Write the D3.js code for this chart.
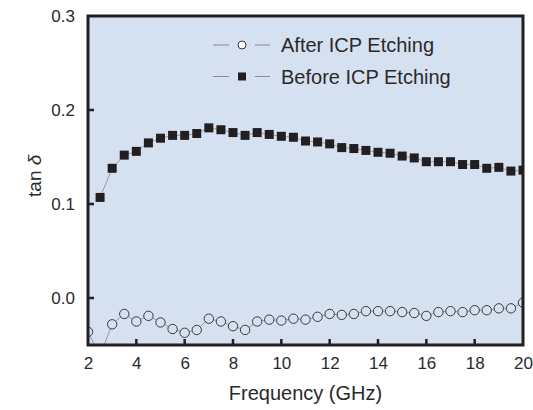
<!DOCTYPE html>
<html>
<head>
<meta charset="utf-8">
<title>tan delta vs frequency</title>
<script src="https://d3js.org/d3.v7.min.js"></script>
<style>
    body { margin: 0; background: #fff; }
    text { font-family: "Liberation Sans", Arial, sans-serif; fill: #2a2a2a; }
    .conn { fill: none; stroke: #8a8a8a; stroke-width: 0.8; }
</style>
</head>
<body>
<svg id="chart" width="533" height="410"></svg>
<script>
// frequencies (GHz)
const freqAfter = [2, 2.5, 3, 3.5, 4, 4.5, 5, 5.5, 6, 6.5, 7, 7.5, 8, 8.5, 9, 9.5, 10, 10.5, 11, 11.5,
    12, 12.5, 13, 13.5, 14, 14.5, 15, 15.5, 16, 16.5, 17, 17.5, 18, 18.5, 19, 19.5, 20];
const tanAfter = [-0.036, -0.061, -0.028, -0.017, -0.025, -0.019, -0.026, -0.033, -0.037, -0.034,
    -0.022, -0.025, -0.030, -0.034, -0.025, -0.023, -0.024, -0.022, -0.023, -0.020,
    -0.017, -0.018, -0.017, -0.014, -0.014, -0.014, -0.015, -0.016, -0.019, -0.015,
    -0.014, -0.015, -0.013, -0.013, -0.011, -0.011, -0.005];

const freqBefore = [2.5, 3, 3.5, 4, 4.5, 5, 5.5, 6, 6.5, 7, 7.5, 8, 8.5, 9, 9.5, 10, 10.5, 11, 11.5,
    12, 12.5, 13, 13.5, 14, 14.5, 15, 15.5, 16, 16.5, 17, 17.5, 18, 18.5, 19, 19.5, 20];
const tanBefore = [0.107, 0.138, 0.152, 0.156, 0.165, 0.170, 0.173, 0.173, 0.175, 0.181,
    0.179, 0.176, 0.173, 0.176, 0.174, 0.172, 0.171, 0.167, 0.166, 0.164,
    0.160, 0.159, 0.157, 0.155, 0.154, 0.151, 0.149, 0.145, 0.145, 0.145,
    0.142, 0.142, 0.138, 0.139, 0.135, 0.136];

const xTicks = [2, 4, 6, 8, 10, 12, 14, 16, 18, 20];
const yTicks = [0.0, 0.1, 0.2, 0.3];
const legendLabels = ["After ICP Etching", "Before ICP Etching"];

const svg = d3.select("#chart");
const margin = { top: 16, right: 10, bottom: 65, left: 88 };
const w = 533 - margin.left - margin.right;
const h = 410 - margin.top - margin.bottom;

const x = d3.scaleLinear().domain([2, 20]).range([0, w]);
const y = d3.scaleLinear().domain([-0.05, 0.3]).range([h, 0]);

const g = svg.append("g").attr("transform", `translate(${margin.left},${margin.top})`);

// plot background
g.append("rect").attr("width", w).attr("height", h).attr("fill", "#d5e0f0");

g.append("clipPath").attr("id", "clip")
    .append("rect").attr("width", w).attr("height", h);

const plot = g.append("g").attr("clip-path", "url(#clip)");

const line = d3.line().x(d => x(d[0])).y(d => y(d[1]));
const after = freqAfter.map((f, i) => [f, tanAfter[i]]);
const before = freqBefore.map((f, i) => [f, tanBefore[i]]);

plot.append("path").attr("class", "conn").attr("d", line(after));
plot.append("path").attr("class", "conn").attr("d", line(before));

plot.selectAll("circle.after").data(after).enter().append("circle")
    .attr("class", "after")
    .attr("cx", d => x(d[0])).attr("cy", d => y(d[1])).attr("r", 4.7)
    .attr("fill", "#d5e0f0").attr("stroke", "#3a3a3a").attr("stroke-width", 1);

const sq = 9;
plot.selectAll("rect.before").data(before).enter().append("rect")
    .attr("class", "before")
    .attr("x", d => x(d[0]) - sq / 2).attr("y", d => y(d[1]) - sq / 2)
    .attr("width", sq).attr("height", sq)
    .attr("fill", "#231f20");

// axis labels, ticks drawn inward separately
const xAxis = d3.axisBottom(x).tickValues(xTicks).tickSize(0).tickPadding(12).tickFormat(d3.format("d"));
const xg = g.append("g").attr("transform", `translate(0,${h})`).call(xAxis);
xg.select(".domain").remove();
xg.selectAll("text").attr("font-size", 17).attr("fill", "#2a2a2a");

const yAxis = d3.axisLeft(y).tickValues(yTicks).tickSize(0).tickPadding(13).tickFormat(d3.format(".1f"));
const yg = g.append("g").call(yAxis);
yg.select(".domain").remove();
yg.selectAll("text").attr("font-size", 17).attr("fill", "#2a2a2a");

g.selectAll("line.xt").data(xTicks.slice(1, -1)).enter().append("line")
    .attr("x1", d => x(d)).attr("x2", d => x(d))
    .attr("y1", h).attr("y2", h - 6)
    .attr("stroke", "#231f20").attr("stroke-width", 2.5);
g.selectAll("line.yt").data(yTicks.slice(0, -1)).enter().append("line")
    .attr("x1", 0).attr("x2", 6)
    .attr("y1", d => y(d)).attr("y2", d => y(d))
    .attr("stroke", "#231f20").attr("stroke-width", 2.5);

// frame
g.append("rect").attr("width", w).attr("height", h)
    .attr("fill", "none").attr("stroke", "#231f20").attr("stroke-width", 3);

// legend
const leg = g.append("g").attr("transform", "translate(125,29)");
legendLabels.forEach((lab, i) => {
    const row = leg.append("g").attr("transform", `translate(0,${i * 31.5})`);
    row.append("line").attr("x1", 0).attr("x2", 16).attr("y1", 0).attr("y2", 0)
        .attr("stroke", "#777").attr("stroke-width", 0.8);
    row.append("line").attr("x1", 42).attr("x2", 57).attr("y1", 0).attr("y2", 0)
        .attr("stroke", "#777").attr("stroke-width", 0.8);
    if (i === 0) {
        row.append("circle").attr("cx", 29).attr("cy", 0).attr("r", 4)
            .attr("fill", "#fff").attr("stroke", "#3a3a3a").attr("stroke-width", 1);
    } else {
        row.append("rect").attr("x", 25).attr("y", -4).attr("width", 8).attr("height", 8)
            .attr("fill", "#231f20");
    }
    row.append("text").attr("x", 68).attr("y", 7).attr("font-size", 20).text(lab);
});

// axis titles
svg.append("text")
    .attr("x", margin.left + w / 2).attr("y", 400)
    .attr("text-anchor", "middle").attr("font-size", 20)
    .text("Frequency (GHz)");

const yl = svg.append("text")
    .attr("transform", `translate(41,${margin.top + y(0.13)}) rotate(-90)`)
    .attr("text-anchor", "middle").attr("font-size", 19);
yl.append("tspan").text("tan ");
yl.append("tspan").attr("font-style", "italic").text("δ");
</script>
</body>
</html>
